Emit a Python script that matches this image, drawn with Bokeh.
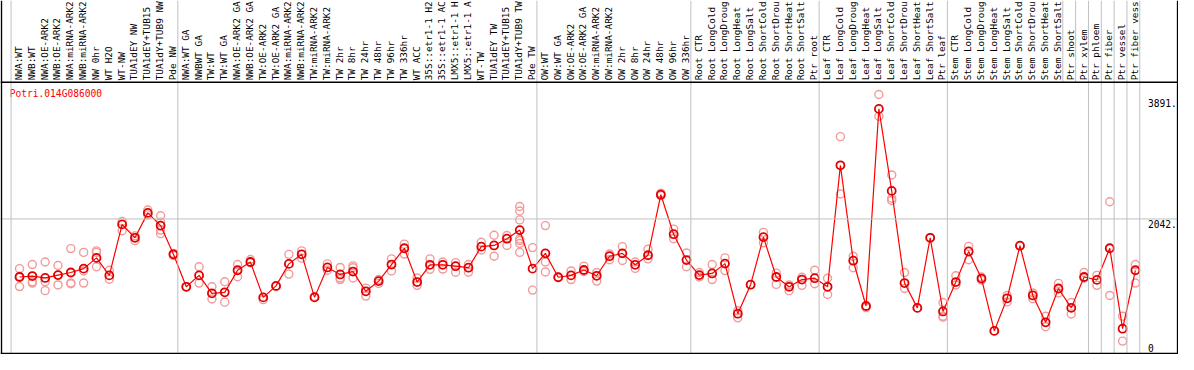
import math
from bokeh.plotting import figure
from bokeh.models import Range1d, Span, ColumnDataSource
from bokeh.core.properties import value
from bokeh.embed import file_html
from bokeh.resources import INLINE

gene = "Potri.014G086000"

categories = [
    "NWA:WT", "NWB:WT", "NWA:OE-ARK2", "NWB:OE-ARK2", "NWA:miRNA-ARK2", "NWB:miRNA-ARK2",
    "NW 0hr", "WT H2O", "WT-NW", "TUA1dEY NW", "TUA1dEY+TUB15 NW", "TUA1dY+TUB9 NW", "Pde NW",
    "NWA:WT GA", "NWBWT GA", "TW:WT", "TW:WT GA", "NWA:OE-ARK2 GA", "NWB:OE-ARK2 GA",
    "TW:OE-ARK2", "TW:OE-ARK2 GA", "NWA:miRNA-ARK2 GA", "NWB:miRNA-ARK2 GA",
    "TW:miRNA-ARK2", "TW:miRNA-ARK2 GA", "TW 2hr", "TW 8hr", "TW 24hr", "TW 48hr", "TW 96hr",
    "TW 336hr", "WT ACC", "35S::etr1-1 H2O", "35S::etr1-1 ACC", "LMX5::etr1-1 H2O",
    "LMX5::etr1-1 ACC", "WT-TW", "TUA1dEY TW", "TUA1dEY+TUB15 TW", "TUA1dY+TUB9 TW", "Pde TW",
    "OW:WT", "OW:WT GA", "OW:OE-ARK2", "OW:OE-ARK2 GA", "OW:miRNA-ARK2", "OW:miRNA-ARK2 GA",
    "OW 2hr", "OW 8hr", "OW 24hr", "OW 48hr", "OW 96hr", "OW 336hr",
    "Root CTR", "Root LongCold", "Root LongDrought", "Root LongHeat", "Root LongSalt",
    "Root ShortCold", "Root ShortDrought", "Root ShortHeat", "Root ShortSalt", "Ptr root",
    "Leaf CTR", "Leaf LongCold", "Leaf LongDrought", "Leaf LongHeat", "Leaf LongSalt",
    "Leaf ShortCold", "Leaf ShortDrought", "Leaf ShortHeat", "Leaf ShortSalt", "Ptr leaf",
    "Stem CTR", "Stem LongCold", "Stem LongDrought", "Stem LongHeat", "Stem LongSalt",
    "Stem ShortCold", "Stem ShortDrought", "Stem ShortHeat", "Stem ShortSalt",
    "Ptr shoot", "Ptr xylem", "Ptr phloem", "Ptr fiber", "Ptr vessel", "Ptr fiber vessel",
]

means = [
    1179, 1193, 1165, 1207, 1246, 1303, 1463, 1203, 1961, 1762, 2132, 1943, 1516,
    1033, 1203, 937, 951, 1279, 1402, 876, 1047, 1374, 1516, 876, 1321, 1217, 1260,
    966, 1118, 1364, 1606, 1104, 1360, 1360, 1340, 1317, 1630, 1648, 1748, 1876, 1303,
    1530, 1175, 1203, 1283, 1197, 1488, 1530, 1360, 1502, 2402, 1815, 1431,
    1207, 1232, 1378, 634, 1065, 1772, 1179, 1033, 1141, 1161,
    1033, 2839, 1421, 748, 3678, 2459, 1089, 720, 1762, 667,
    1104, 1559, 1155, 378, 862, 1644, 905, 506, 1008,
    720, 1179, 1136, 1606, 411, 1279,
]

replicates = [
    [1303, 1037, 1190], [1364, 1108, 1089], [1402, 1108, 976], [1350, 1061, 1207],
    [1601, 1089, 1079], [1545, 1269, 1089], [1567, 1545, 1331], [1279, 1146],
    [2004, 1866], [1791, 1719], [2175, 2103], [2089, 1994, 1876, 1823], [1530, 1496],
    [1033], [1331, 1089], [1033, 852], [1108, 805], [1364, 1183], [1439, 1392],
    [842], [1037], [1516, 1222], [1567, 1459], [890], [1374, 1279],
    [1321, 1165, 1141], [1345, 1317, 1165], [1013, 895], [1141, 1084], [1449, 1269],
    [1667, 1520], [1165, 1055], [1449, 1293], [1402, 1297], [1392, 1250], [1364, 1250],
    [1695, 1581], [1800, 1488], [1795, 1648],
    [2227, 2160, 2028, 1744, 1719, 1677, 1545], [1616, 984],
    [1943, 1402, 1254], [1175], [1269, 1141], [1340, 1260], [1246, 1118], [1520, 1435],
    [1630, 1425], [1402, 1307], [1591, 1449], [2426, 2388], [1890, 1748], [1535, 1331],
    [1246, 1179], [1364, 1141], [1463, 1274], [677, 572], [1065], [1843, 1687],
    [1236, 1069], [1061, 976], [1175, 1055], [1279, 1079],
    [1161, 919], [3265, 2412], [1488, 1317], [724], [3891, 3568], [2696, 2349, 2317],
    [1246, 1008], [720], [1762], [799, 596, 582],
    [1197, 1061], [1634, 1435], [1179, 1132], [378], [905, 809], [1644], [942, 856],
    [596, 439], [1084, 942],
    [799, 629], [1246, 1165], [1203, 1055], [2298, 905], [596, 226], [1364, 1089],
]

group_breaks = [0, 13, 41, 53, 63, 73, 84, 85, 86, 87, 88]
label_only_breaks = [82, 83]
grid_value = 2042
tick_values = [3891, 2042, 0]
tick_labels = ["3891.", "2042.", "0"]

# ---- geometry (data units) ----
X0, X1 = -0.823, 91.02
Y0, Y1 = 27, 5289
HEADER = 4073          # value at the line under the sample labels
PT = 0.66              # point position inside a sample cell
LAB = 0.58             # label position inside a sample cell
MAXCH = 14             # characters that fit in the label strip (as in the original)

FONT = value("DejaVu Sans Mono")

p = figure(width=1178, height=354, output_backend="svg", toolbar_location=None,
           x_range=Range1d(X0, X1), y_range=Range1d(Y0, Y1),
           x_axis_location=None, y_axis_location=None, min_border=0)
p.grid.visible = False
p.outline_line_color = None
p.background_fill_color = "white"
p.border_fill_color = "white"

grey = "#c0c0c0"
for b in group_breaks:
    p.add_layout(Span(location=b, dimension="height", line_color=grey, line_width=1))
for b in label_only_breaks:
    p.segment(x0=[b], y0=[HEADER], x1=[b], y1=[Y1], line_color=grey, line_width=1)
p.add_layout(Span(location=grid_value, dimension="width", line_color=grey, line_width=1))

# frame lines
p.add_layout(Span(location=HEADER, dimension="width", line_color="black", line_width=1.5))
p.add_layout(Span(location=41, dimension="width", line_color="black", line_width=1.5))
p.add_layout(Span(location=-0.75, dimension="height", line_color="black", line_width=1.5))
p.add_layout(Span(location=90.95, dimension="height", line_color="black", line_width=1.5))

# sample labels (vertical; the strip only has room for MAXCH characters, as in the original)
shown = [c[:MAXCH].rstrip() for c in categories]
lab_src = ColumnDataSource(dict(x=[i + LAB for i in range(len(categories))],
                                y=[HEADER + 30] * len(categories),
                                t=shown))
p.text(x="x", y="y", text="t", source=lab_src, angle=math.pi / 2,
       text_align="left", text_baseline="middle", text_font=FONT,
       text_font_size="9.4px", text_color="black")

# title
p.text(x=[-0.11], y=[3905], text=[gene], text_align="left", text_baseline="middle",
       text_font=FONT, text_font_size="9.6px", text_color="#ff0000")

# value labels on the right
offs = {"3891.": 4, "2042.": 1, "0": -4}
for v, t in zip(tick_values, tick_labels):
    p.text(x=[88.64], y=[v], text=[t], text_align="left",
           text_baseline="bottom" if v == 0 else "top",
           y_offset=offs[t], text_font=FONT, text_font_size="9.6px", text_color="black")

# replicates
rx, ry = [], []
for i, reps in enumerate(replicates):
    for r in reps:
        rx.append(i + PT)
        ry.append(r)
p.scatter(rx, ry, size=8, marker="circle", fill_color=None,
          line_color="#f29a9a", line_width=1.4)

# mean line and points
mx = [i + PT for i in range(len(means))]
p.line(mx, means, line_color="#ff0000", line_width=1.2)
p.scatter(mx, means, size=8, marker="circle", fill_color=None,
          line_color="#e00000", line_width=1.8)

open("out.html", "w").write(file_html(p, INLINE))
